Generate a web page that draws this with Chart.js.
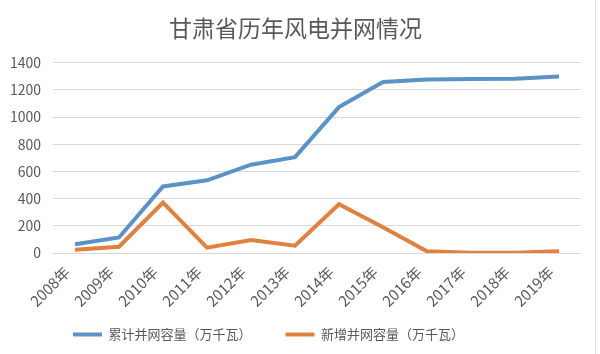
<!DOCTYPE html>
<html lang="zh">
<head>
<meta charset="UTF-8">
<title>甘肃省历年风电并网情况</title>
<style>
  html, body { margin: 0; padding: 0; background: #fff; }
  #wrap { width: 595px; height: 354px; border-right: 1px solid #e3e3e3; }
</style>
</head>
<body>
<div id="wrap"><canvas id="myChart"></canvas></div>
<script src="https://cdn.jsdelivr.net/npm/chart.js"></script>
<script>
  // 数据
  const years = ["2008年", "2009年", "2010年", "2011年", "2012年", "2013年",
                 "2014年", "2015年", "2016年", "2017年", "2018年", "2019年"];
  const cumulative = [65, 115, 490, 535, 650, 705, 1073, 1258, 1275, 1280, 1282, 1297];
  const added = [25, 47, 371, 40, 96, 55, 359, 190, 13, 3, 3, 14];

  const fontFamily = "'Noto Sans CJK SC', 'Liberation Sans', sans-serif";
  const textColor = "#595959";

  // 图例位置微调（左移、上移）
  const legendShift = {
    id: "legendShift",
    afterLayout(chart) {
      const lg = chart.legend;
      lg.left -= 27;
      lg.right -= 27;
      lg.top -= 26;
    }
  };

  const ctx = document.getElementById("myChart");

  new Chart(ctx, {
    type: "line",
    data: {
      labels: years,
      datasets: [
        {
          label: "累计并网容量（万千瓦）",
          data: cumulative,
          borderColor: "#5B93C7",
          backgroundColor: "#5B93C7",
          borderWidth: 4,
          pointRadius: 0,
          tension: 0
        },
        {
          label: "新增并网容量（万千瓦）",
          data: added,
          borderColor: "#E0813F",
          backgroundColor: "#E0813F",
          borderWidth: 4,
          pointRadius: 0,
          tension: 0
        }
      ]
    },
    plugins: [legendShift],
    options: {
      responsive: true,
      maintainAspectRatio: false,
      animation: false,
      layout: { padding: { left: 10, right: 14, top: 8, bottom: 2 } },
      plugins: {
        title: {
          display: true,
          text: "甘肃省历年风电并网情况",
          color: textColor,
          font: { family: fontFamily, size: 23, weight: "normal" },
          padding: { top: 6, bottom: 21 }
        },
        legend: {
          position: "bottom",
          maxHeight: 32,
          labels: {
            color: textColor,
            font: { family: fontFamily, size: 13 },
            boxWidth: 29,
            boxHeight: 4,
            padding: 34,
            generateLabels(chart) {
              const items = Chart.defaults.plugins.legend.labels.generateLabels(chart);
              items.forEach(it => { it.lineWidth = 0; it.fillStyle = it.strokeStyle; });
              return items;
            }
          }
        },
        tooltip: { enabled: false }
      },
      scales: {
        x: {
          offset: true,
          grid: { display: false, drawTicks: false },
          border: { display: false },
          ticks: {
            color: textColor,
            font: { family: fontFamily, size: 15 },
            minRotation: 45,
            maxRotation: 45,
            padding: 10,
            labelOffset: -8
          },
          afterFit(scale) { scale.paddingLeft = 0; }
        },
        y: {
          min: 0,
          max: 1400,
          grid: { color: "#d9d9d9", drawTicks: false },
          border: { display: false },
          ticks: {
            stepSize: 200,
            color: textColor,
            font: { family: fontFamily, size: 14 },
            padding: 12,
            callback: v => String(v)
          },
          afterFit(scale) { scale.width = 43; }
        }
      }
    }
  });
</script>
</body>
</html>
